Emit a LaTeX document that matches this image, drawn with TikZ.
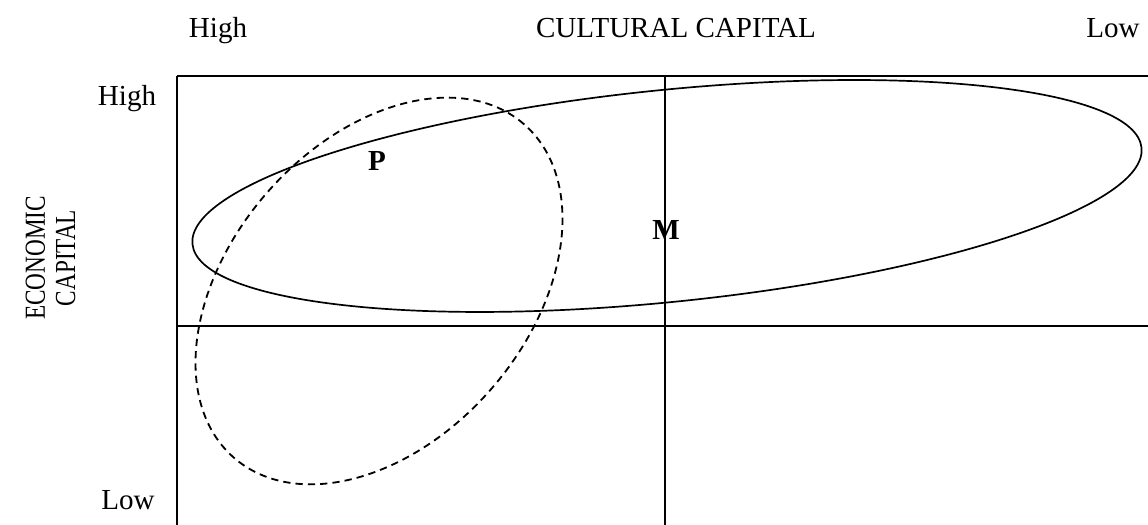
\documentclass[tikz,border=0pt]{standalone}
\usepackage{fontspec}
\setmainfont{Liberation Serif}

\begin{document}
\begin{tikzpicture}[x=0.413pt,y=0.413pt,
  axis/.style={line width=0.95pt},
  field/.style={line width=0.7pt},
  fielddash/.style={line width=0.75pt,dash pattern=on 3pt off 2.1pt},
  lbl/.style={inner sep=0pt,anchor=base,font=\fontsize{12}{14}\selectfont}]
\path[use as bounding box] (0,0) rectangle (1148,525);
\draw[axis] (177,449) -- (1148,449);
\draw[axis] (177,199) -- (1148,199);
\draw[axis] (177,0) -- (177,449);
\draw[axis] (665,0) -- (665,449);
\draw[field] (667,329) ellipse[x radius=477,y radius=106,rotate=5.8];
\draw[fielddash] (379,234) ellipse[x radius=221,y radius=149,rotate=49];
\node[lbl] (hhigh) at (218,487) {High};
\node[lbl] (cult) at (676,487) {CULTURAL CAPITAL};
\node[lbl] (hlow) at (1113,487) {Low};
\node[lbl] (vhigh) at (127,419) {High};
\node[lbl] (vlow) at (128,15) {Low};
\node[lbl,anchor=center,rotate=90,font=\fontsize{12}{12.5}\selectfont] (econ) at (54,267)
  {\scalebox{0.8}[1]{\begin{tabular}{@{}c@{}}ECONOMIC\\CAPITAL\end{tabular}}};
\node[lbl] (p) at (377,354) {\textbf{P}};
\node[lbl] (m) at (666,285) {\textbf{M}};
\end{tikzpicture}
\end{document}
